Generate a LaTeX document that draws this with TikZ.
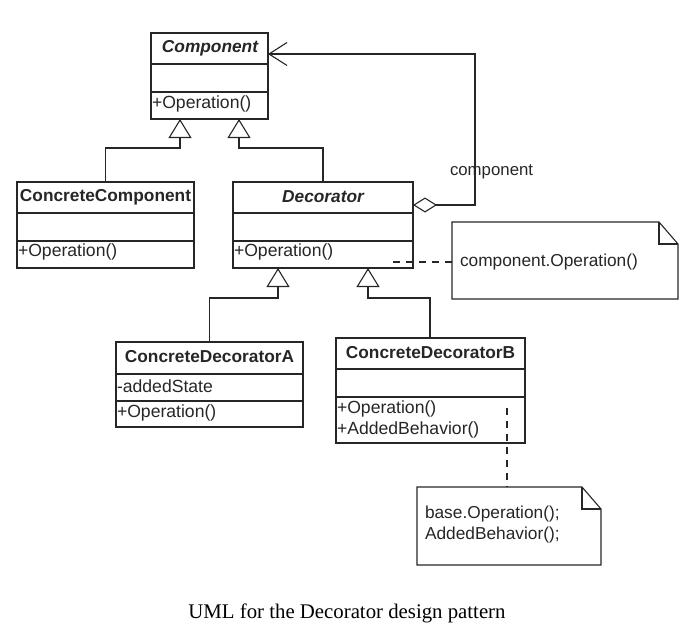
\documentclass[tikz,border=0pt]{standalone}
\usepackage{fontspec}
\setmainfont{Liberation Sans}
\newfontfamily\capfont{Liberation Serif}
\usetikzlibrary{arrows.meta,calc}
\definecolor{ink}{HTML}{262626}
\begin{document}
\begin{tikzpicture}[x=1pt,y=-1pt,
  every node/.style={inner sep=0pt, outer sep=0pt, text=ink},
  box/.style={draw=ink, line width=1.1pt, fill=none, anchor=north west},
  sep/.style={draw=ink, line width=1.1pt},
  cls/.style={font=\fontsize{17.3}{18}\selectfont\bfseries},
  acls/.style={font=\fontsize{17.3}{18}\selectfont\bfseries\itshape},
  mem/.style={font=\fontsize{17.6}{18}\selectfont, anchor=west},
  notetext/.style={font=\fontsize{17.3}{21}\selectfont, anchor=west, align=left},
  gen/.style={draw=ink, line width=1.1pt, -{Triangle[open, length=19pt, width=23pt, line width=1.1pt]}},
  agg/.style={draw=ink, line width=1.1pt, {Diamond[open, length=24pt, width=15pt, line width=1.1pt]}-{Straight Barb[length=18pt, width=23pt, line width=1.1pt]}},
  dep/.style={draw=ink, line width=1.1pt, dash pattern=on 7pt off 6pt},
  notebox/.style={draw=ink, line width=1.1pt, line join=miter}
]
\useasboundingbox (0,0) rectangle (693,632);

% Component
\node[box, minimum width=117pt, minimum height=86pt] (comp) at (151,33) {};
\draw[sep] (151,64) -- (268,64);
\draw[sep] (151,92) -- (268,92);
\node[acls] (compt) at (210,48) {Component};
\node[mem] (compo) at (152,104) {+Operation()};

% ConcreteComponent
\node[box, minimum width=177pt, minimum height=86pt] (cc) at (17,182) {};
\draw[sep] (17,213) -- (194,213);
\draw[sep] (17,241) -- (194,241);
\node[cls] (cct) at (105.5,197) {ConcreteComponent};
\node[mem] (cco) at (18,252) {+Operation()};

% Decorator
\node[box, minimum width=180pt, minimum height=86pt] (dec) at (233,182) {};
\draw[sep] (233,213) -- (413,213);
\draw[sep] (233,241) -- (413,241);
\node[acls] (dect) at (323,197) {Decorator};
\node[mem] (deco) at (234,252) {+Operation()};

% ConcreteDecoratorA
\node[box, minimum width=187pt, minimum height=85pt] (cda) at (116,342) {};
\draw[sep] (116,374) -- (303,374);
\draw[sep] (116,401) -- (303,401);
\node[cls] (cdat) at (209.5,357) {ConcreteDecoratorA};
\node[mem] (cdaa) at (117,386) {-addedState};
\node[mem] (cdao) at (117,413) {+Operation()};

% ConcreteDecoratorB
\node[box, minimum width=189pt, minimum height=105pt] (cdb) at (336,338) {};
\draw[sep] (336,369) -- (525,369);
\draw[sep] (336,397) -- (525,397);
\node[cls] (cdbt) at (430.5,353) {ConcreteDecoratorB};
\node[mem] (cdbo) at (337,409) {+Operation()};
\node[mem] (cdbb) at (337,430) {+AddedBehavior()};

% Note 1
\node[minimum width=226pt, minimum height=77pt, anchor=north west] (n1) at (452,222) {};
\draw[notebox] (n1.north west) -- ($(n1.north east)+(-19,0)$) -- ($(n1.north east)+(0,22)$) -- (n1.south east) -- (n1.south west) -- cycle;
\draw[notebox] ($(n1.north east)+(-19,0)$) -- ($(n1.north east)+(-19,22)$) -- ($(n1.north east)+(0,22)$);
\node[notetext] (n1t) at (460,262) {component.Operation()};

% Note 2
\node[minimum width=184pt, minimum height=78pt, anchor=north west] (n2) at (417,487) {};
\draw[notebox] (n2.north west) -- ($(n2.north east)+(-19,0)$) -- ($(n2.north east)+(0,22)$) -- (n2.south east) -- (n2.south west) -- cycle;
\draw[notebox] ($(n2.north east)+(-19,0)$) -- ($(n2.north east)+(-19,22)$) -- ($(n2.north east)+(0,22)$);
\node[notetext] (n2t) at (425,525) {base.Operation();\\AddedBehavior();};

% generalizations
\coordinate (tc1) at (180,119);
\coordinate (tc2) at (239,119);
\coordinate (td1) at (278,268);
\coordinate (td2) at (368,268);
\draw[gen] (cc.north) |- (180,148) -- (tc1);
\draw[gen] (dec.north) |- (239,148) -- (tc2);
\draw[gen] (cda.north) |- (278,298) -- (td1);
\draw[gen] (430,338) |- (368,298) -- (td2);

% aggregation
\coordinate (ds) at (413,205);
\coordinate (ce) at (268,54);
\draw[agg] (ds) -| (475,54) -- (ce);
\node[font=\fontsize{16.8}{18}\selectfont, anchor=west] (lbl) at (450,172) {component};

% note links
\coordinate (dn) at (393,262);
\draw[dep] (dn) -- (n1.west |- dn);
\coordinate (bn) at (507,408);
\draw[dep] (bn) -- (n2.north -| bn);

% caption
\node[font=\capfont\fontsize{20.8}{22}\selectfont, text=black] (cap) at (347,613) {UML for the Decorator design pattern};
\end{tikzpicture}
\end{document}
